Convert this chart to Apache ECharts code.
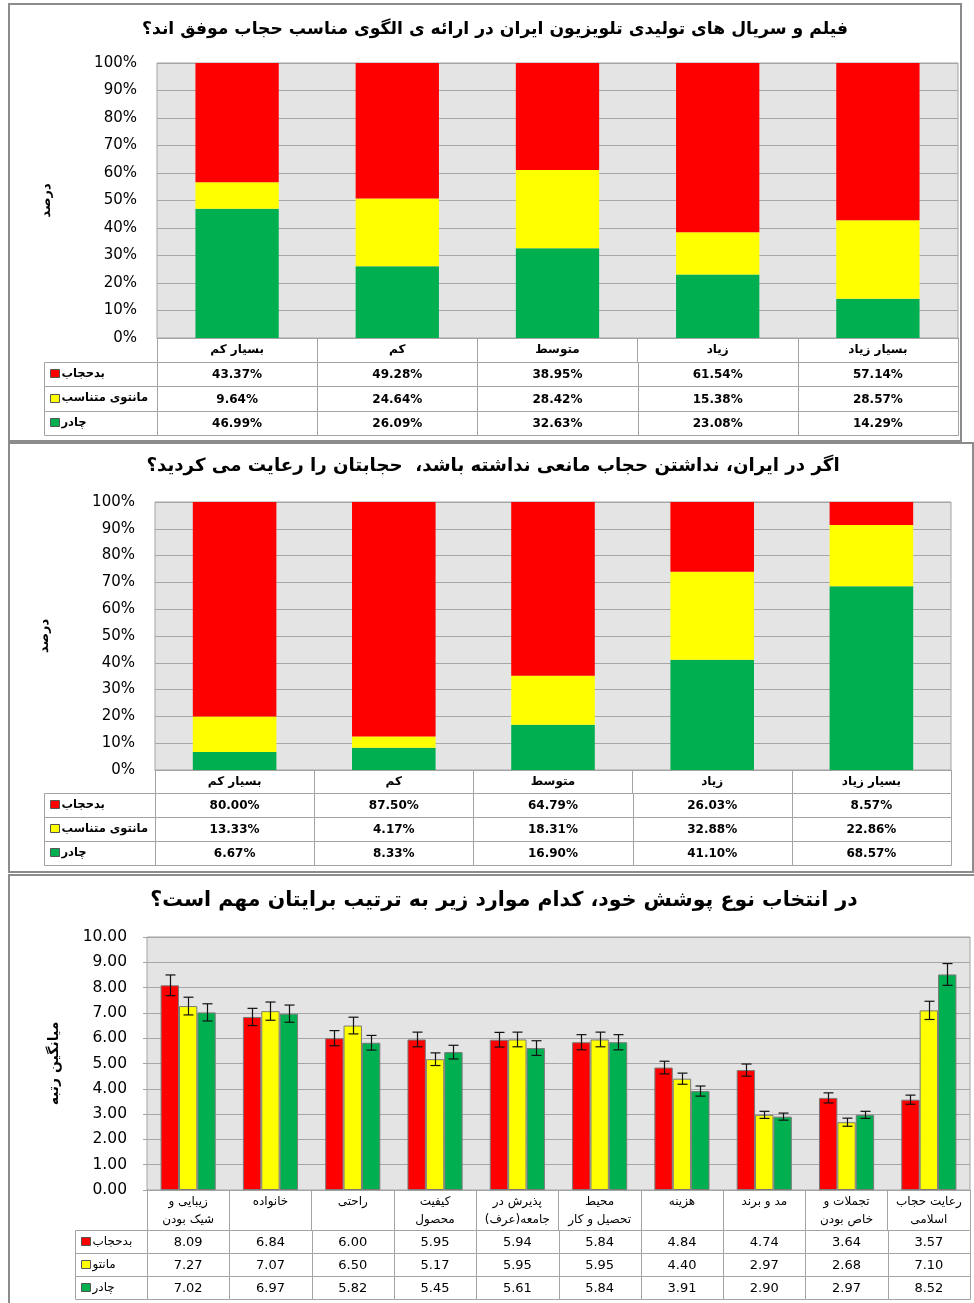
<!DOCTYPE html>
<html dir="rtl">
<head>
<meta charset="utf-8">
<script src="https://cdn.jsdelivr.net/npm/echarts@6/dist/echarts.min.js"></script>
<style>html,body{margin:0;padding:0;background:#fff}#c{width:974px;height:1303px}</style>
</head>
<body>
<div id="c"></div>
<script>
// ---------- DATA ----------
const title1 = 'فیلم و سریال های تولیدی تلویزیون ایران در ارائه ی الگوی مناسب حجاب موفق اند؟';
const title2 = 'اگر در ایران، نداشتن حجاب مانعی نداشته باشد،  حجابتان را رعایت می کردید؟';
const title3 = 'در انتخاب نوع پوشش خود، کدام موارد زیر به ترتیب برایتان مهم است؟';
const yName12 = 'درصد';
const yName3 = 'میانگین رتبه';

const cats12 = ['بسیار کم', 'کم', 'متوسط', 'زیاد', 'بسیار زیاد'];
const seriesNames12 = ['بدحجاب', 'مانتوی متناسب', 'چادر'];

const c1Bad    = [43.37, 49.28, 38.95, 61.54, 57.14];
const c1Manto  = [9.64, 24.64, 28.42, 15.38, 28.57];
const c1Chador = [46.99, 26.09, 32.63, 23.08, 14.29];

const c2Bad    = [80.00, 87.50, 64.79, 26.03, 8.57];
const c2Manto  = [13.33, 4.17, 18.31, 32.88, 22.86];
const c2Chador = [6.67, 8.33, 16.90, 41.10, 68.57];

const cats3 = ['زیبایی و\nشیک بودن', 'خانواده', 'راحتی', 'کیفیت\nمحصول', 'پذیرش در\nجامعه(عرف)',
               'محیط\nتحصیل و کار', 'هزینه', 'مد و برند', 'تجملات و\nخاص بودن', 'رعایت حجاب\nاسلامی'];
const seriesNames3 = ['بدحجاب', 'مانتو', 'چادر'];
const c3Bad    = [8.09, 6.84, 6.00, 5.95, 5.94, 5.84, 4.84, 4.74, 3.64, 3.57];
const c3Manto  = [7.27, 7.07, 6.50, 5.17, 5.95, 5.95, 4.40, 2.97, 2.68, 7.10];
const c3Chador = [7.02, 6.97, 5.82, 5.45, 5.61, 5.84, 3.91, 2.90, 2.97, 8.52];
const c3BadErr    = [0.41, 0.34, 0.30, 0.29, 0.29, 0.30, 0.25, 0.24, 0.20, 0.18];
const c3MantoErr  = [0.35, 0.36, 0.33, 0.25, 0.29, 0.29, 0.22, 0.14, 0.16, 0.36];
const c3ChadorErr = [0.34, 0.34, 0.29, 0.27, 0.29, 0.30, 0.20, 0.14, 0.14, 0.43];

// ---------- STYLE ----------
const FONT = "'DejaVu Sans', sans-serif";
const RED = '#ff0000', YELLOW = '#ffff00', GREEN = '#00b050';
const SERIES_COLORS = [RED, YELLOW, GREEN];
const BORDER = '#a3a3a3';
const PLOT_BG = '#e4e4e4';
const GRIDLINE = '#a6a6a6';
const GAP3 = 0.33;

// ---------- helpers ----------
function tableData(rows, nCats) {
  const data = [], texts = [];
  rows.forEach((r, ri) => {
    for (let ci = 0; ci < nCats; ci++) { data.push([ci, ri]); texts.push(r[ci]); }
  });
  return {data, texts};
}
function makeTableRender(texts, legendNames, opts) {
  return function (params, api) {
    const ci = api.value(0), ri = api.value(1);
    const c = api.coord([ci, ri]);
    const origin = api.coord([0, 0]);
    const s = api.size([1, 1]);
    const gx = origin[0] - s[0] / 2, gy = origin[1] - s[1] / 2;
    const L = Math.round(gx + ci * s[0]), R = Math.round(gx + (ci + 1) * s[0]);
    const T = Math.round(gy + ri * s[1]), B = Math.round(gy + (ri + 1) * s[1]);
    const x0 = L + 0.5, y0 = T + 0.5, w = R - L, h = B - T;
    const children = [
      {type: 'rect', shape: {x: x0, y: y0, width: w, height: h}, style: {fill: '#fff', stroke: BORDER, lineWidth: 1}},
      {type: 'text', style: {text: texts[params.dataIndex], x: c[0], y: c[1] + 1, align: 'center', verticalAlign: 'middle',
        fontSize: opts.fontSize, fontWeight: opts.fontWeight, fontFamily: FONT, fill: '#000'}}
    ];
    if (ci === 0) {
      const lx = x0 - opts.legendW;
      children.push({type: 'rect', shape: {x: lx, y: y0, width: opts.legendW, height: h}, style: {fill: '#fff', stroke: BORDER, lineWidth: 1}});
      children.push({type: 'rect', shape: {x: lx + 6, y: Math.round(c[1]) - 4.5, width: 9, height: 8},
        style: {fill: SERIES_COLORS[ri], stroke: '#555', lineWidth: 1}});
      children.push({type: 'text', style: {text: legendNames[ri], x: lx + 17, y: c[1], align: 'left', verticalAlign: 'middle',
        fontSize: opts.legendFont, fontWeight: opts.fontWeight, fontFamily: FONT, fill: '#000'}});
    }
    return {type: 'group', children};
  };
}
function errRender(k) {
  return function (params, api) {
    const ci = api.value(0);
    const lo = api.coord([ci, api.value(1)]), hi = api.coord([ci, api.value(2)]);
    const band = api.size([1, 0])[0];
    const barW = band * (1 - GAP3) / 3;
    const x = Math.round(lo[0] + (k - 1) * barW) + 0.5;
    const cap = 5;
    const st = {stroke: '#111', lineWidth: 1.2};
    return {type: 'group', children: [
      {type: 'line', shape: {x1: x, y1: lo[1], x2: x, y2: hi[1]}, style: st},
      {type: 'line', shape: {x1: x - cap, y1: hi[1], x2: x + cap, y2: hi[1]}, style: st},
      {type: 'line', shape: {x1: x - cap, y1: lo[1], x2: x + cap, y2: lo[1]}, style: st}
    ]};
  };
}
const pct = v => v.toFixed(2) + '%';
const t1 = tableData([c1Bad.map(pct), c1Manto.map(pct), c1Chador.map(pct)], 5);
const t2 = tableData([c2Bad.map(pct), c2Manto.map(pct), c2Chador.map(pct)], 5);
const t3 = tableData([c3Bad.map(v => v.toFixed(2)), c3Manto.map(v => v.toFixed(2)), c3Chador.map(v => v.toFixed(2))], 10);

// ---------- layout ----------
const grids = [
  {left: 157, top: 63, width: 801, height: 275},
  {left: 157, top: 362, width: 801, height: 73},
  {left: 155, top: 502, width: 796, height: 268},
  {left: 155, top: 793, width: 796, height: 72},
  {left: 147, top: 937, width: 823, height: 253},
  {left: 147, top: 1230, width: 823, height: 69}
].map((g, i) => Object.assign(g, i % 2 === 0 ? {show: true, backgroundColor: PLOT_BG, borderColor: BORDER, borderWidth: 1} : {show: false}));

function plotX(gi, cats, tickLen, labelOpts) {
  return {type: 'category', gridIndex: gi, data: cats,
    axisLine: {show: true, lineStyle: {color: BORDER, width: 1}},
    axisTick: {show: true, length: tickLen, alignWithLabel: false, lineStyle: {color: BORDER, width: 1}},
    axisLabel: Object.assign({interval: 0, color: '#000', fontFamily: FONT}, labelOpts),
    splitLine: {show: false}};
}
function tableX(gi, cats) {
  return {type: 'category', gridIndex: gi, data: cats, show: false};
}
function tableY(gi) {
  return {type: 'category', gridIndex: gi, data: ['0', '1', '2'], inverse: true, show: false};
}
function pctY(gi) {
  return {type: 'value', gridIndex: gi, min: 0, max: 100, interval: 10,
    name: yName12, nameLocation: 'middle', nameRotate: 90, nameGap: 104,
    nameTextStyle: {fontFamily: FONT, fontWeight: 'bold', fontSize: 13, color: '#000'},
    axisLine: {show: false}, axisTick: {show: false},
    axisLabel: {formatter: '{value}%', fontSize: 15, margin: 20, color: '#000', fontFamily: FONT},
    splitLine: {show: true, lineStyle: {color: GRIDLINE, width: 1}}};
}
function titleText(text, x, y, size) {
  return {type: 'text', x: x, y: y, style: {text: text, align: 'center', verticalAlign: 'middle', textAlign: 'center',
    textVerticalAlign: 'middle', fontSize: size, fontWeight: 'bold', fontFamily: FONT, fill: '#000'}};
}

const option = {
  animation: false,
  backgroundColor: '#fff',
  textStyle: {fontFamily: FONT},
  graphic: [
    {type: 'rect', shape: {x: 9, y: 4, width: 952, height: 437}, style: {fill: 'none', stroke: '#8c8c8c', lineWidth: 2}, z: 0},
    {type: 'rect', shape: {x: 9, y: 443, width: 964, height: 429}, style: {fill: 'none', stroke: '#8c8c8c', lineWidth: 2}, z: 0},
    {type: 'rect', shape: {x: 9, y: 875, width: 990, height: 450}, style: {fill: 'none', stroke: '#8c8c8c', lineWidth: 2}, z: 0},
    titleText(title1, 495, 30, 17.2),
    titleText(title2, 493, 466, 18.2),
    titleText(title3, 504, 901, 20.5)
  ],
  grid: grids,
  xAxis: [
    plotX(0, cats12, 24, {fontSize: 12, fontWeight: 'bold', margin: 6}),
    tableX(1, cats12),
    plotX(2, cats12, 23, {fontSize: 12, fontWeight: 'bold', margin: 6}),
    tableX(3, cats12),
    plotX(4, cats3, 40, {fontSize: 12, margin: 3, lineHeight: 18}),
    tableX(5, cats3)
  ],
  yAxis: [
    pctY(0),
    tableY(1),
    pctY(2),
    tableY(3),
    {type: 'value', gridIndex: 4, min: 0, max: 10, interval: 1,
      name: yName3, nameLocation: 'middle', nameRotate: 90, nameGap: 86,
      nameTextStyle: {fontFamily: FONT, fontWeight: 'bold', fontSize: 14, color: '#000'},
      axisLine: {show: false}, axisTick: {show: true, length: 4, lineStyle: {color: BORDER}},
      axisLabel: {formatter: v => v.toFixed(2), fontSize: 15.5, margin: 20, color: '#000', fontFamily: FONT},
      splitLine: {show: true, lineStyle: {color: GRIDLINE, width: 1}}},
    tableY(5)
  ],
  series: [
    // chart 1 (stack bottom->top: chador, manto, bad)
    {type: 'bar', name: seriesNames12[2], xAxisIndex: 0, yAxisIndex: 0, stack: 's1', data: c1Chador, itemStyle: {color: GREEN}, barCategoryGap: '48%'},
    {type: 'bar', name: seriesNames12[1], xAxisIndex: 0, yAxisIndex: 0, stack: 's1', data: c1Manto, itemStyle: {color: YELLOW}, barCategoryGap: '48%'},
    {type: 'bar', name: seriesNames12[0], xAxisIndex: 0, yAxisIndex: 0, stack: 's1', data: c1Bad, itemStyle: {color: RED}, barCategoryGap: '48%'},
    {type: 'custom', xAxisIndex: 1, yAxisIndex: 1, data: t1.data, clip: false,
      renderItem: makeTableRender(t1.texts, seriesNames12, {fontSize: 12, fontWeight: 'bold', legendFont: 11.5, legendW: 113})},
    // chart 2
    {type: 'bar', name: seriesNames12[2], xAxisIndex: 2, yAxisIndex: 2, stack: 's2', data: c2Chador, itemStyle: {color: GREEN}, barCategoryGap: '47.5%'},
    {type: 'bar', name: seriesNames12[1], xAxisIndex: 2, yAxisIndex: 2, stack: 's2', data: c2Manto, itemStyle: {color: YELLOW}, barCategoryGap: '47.5%'},
    {type: 'bar', name: seriesNames12[0], xAxisIndex: 2, yAxisIndex: 2, stack: 's2', data: c2Bad, itemStyle: {color: RED}, barCategoryGap: '47.5%'},
    {type: 'custom', xAxisIndex: 3, yAxisIndex: 3, data: t2.data, clip: false,
      renderItem: makeTableRender(t2.texts, seriesNames12, {fontSize: 12, fontWeight: 'bold', legendFont: 11.5, legendW: 111})},
    // chart 3
    {type: 'bar', name: seriesNames3[0], xAxisIndex: 4, yAxisIndex: 4, data: c3Bad, barGap: '0%', barCategoryGap: '33%', itemStyle: {color: RED, borderColor: '#7a7a7a', borderWidth: 1}},
    {type: 'bar', name: seriesNames3[1], xAxisIndex: 4, yAxisIndex: 4, data: c3Manto, barGap: '0%', barCategoryGap: '33%', itemStyle: {color: YELLOW, borderColor: '#7a7a7a', borderWidth: 1}},
    {type: 'bar', name: seriesNames3[2], xAxisIndex: 4, yAxisIndex: 4, data: c3Chador, barGap: '0%', barCategoryGap: '33%', itemStyle: {color: GREEN, borderColor: '#7a7a7a', borderWidth: 1}},
    {type: 'custom', xAxisIndex: 4, yAxisIndex: 4, z: 5, renderItem: errRender(0),
      data: c3Bad.map((v, i) => [i, v - c3BadErr[i], v + c3BadErr[i]])},
    {type: 'custom', xAxisIndex: 4, yAxisIndex: 4, z: 5, renderItem: errRender(1),
      data: c3Manto.map((v, i) => [i, v - c3MantoErr[i], v + c3MantoErr[i]])},
    {type: 'custom', xAxisIndex: 4, yAxisIndex: 4, z: 5, renderItem: errRender(2),
      data: c3Chador.map((v, i) => [i, v - c3ChadorErr[i], v + c3ChadorErr[i]])},
    {type: 'custom', xAxisIndex: 5, yAxisIndex: 5, data: t3.data, clip: false,
      renderItem: makeTableRender(t3.texts, seriesNames3, {fontSize: 13, fontWeight: 'normal', legendFont: 12, legendW: 72})}
  ]
};
const chart = echarts.init(document.getElementById('c'), null, {renderer: 'canvas'});
chart.setOption(option);
</script>
</body>
</html>
